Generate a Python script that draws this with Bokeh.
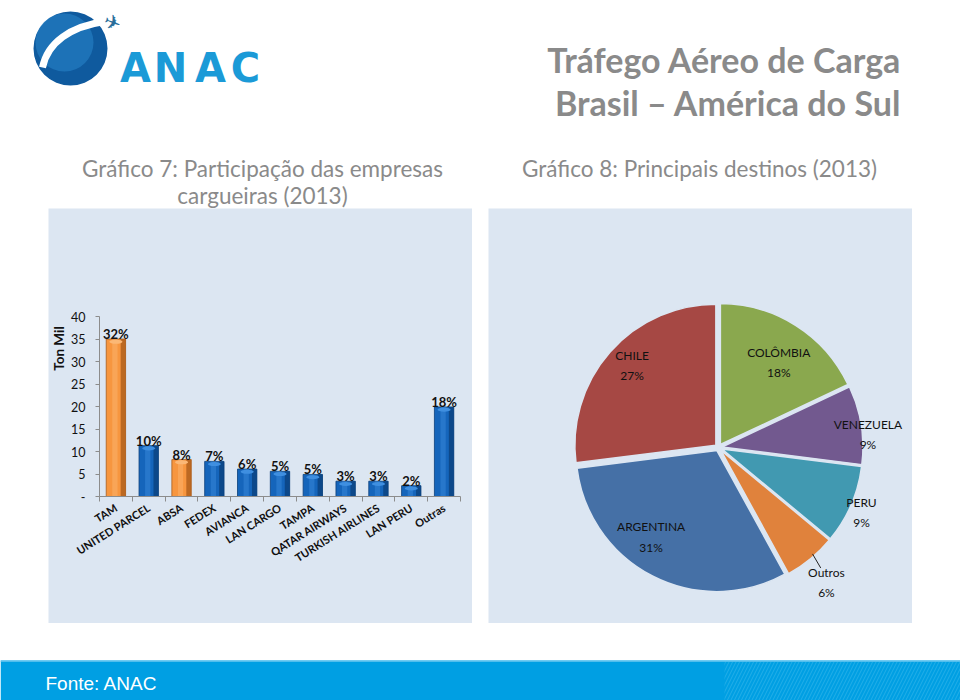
import math
from bokeh.plotting import figure
from bokeh.models import Range1d, FixedTicker, Spacer, ColumnDataSource
from bokeh.layouts import column, row
from bokeh.core.properties import value
from bokeh.embed import file_html
from bokeh.resources import INLINE

# ---------------- data ----------------
carriers = ["TAM", "UNITED PARCEL", "ABSA", "FEDEX", "AVIANCA", "LAN CARGO",
            "TAMPA", "QATAR AIRWAYS", "TURKISH AIRLINES", "LAN PERU", "Outras"]
ton_mil = [35.0, 11.3, 8.2, 7.8, 6.1, 5.6, 4.9, 3.4, 3.4, 2.4, 19.9]
share_labels = ["32%", "10%", "8%", "7%", "6%", "5%", "5%", "3%", "3%", "2%", "18%"]
highlighted = ["TAM", "ABSA"]
y_ticks = [0, 5, 10, 15, 20, 25, 30, 35, 40]

destinos = ["COLÔMBIA", "VENEZUELA", "PERU", "Outros", "ARGENTINA", "CHILE"]
destino_pct = [18, 9, 9, 6, 31, 27]
destino_colors = ["#8aa84e", "#72598f", "#4199b1", "#e0823c", "#4570a6", "#a64844"]

# ---------------- styles ----------------
BG = "#dce6f2"
GRAY = "#8a8a8a"
FONT = "Lato"

# ---------------- header ----------------
ph = figure(width=960, height=208, x_range=Range1d(0, 960), y_range=Range1d(208, 0),
            x_axis_location=None, y_axis_location=None, min_border=0,
            outline_line_color=None, toolbar_location=None, output_backend="svg")
ph.grid.visible = False
# logo
ph.circle(x=[70], y=[48], radius=37, fill_color="#0f5a9e", line_color=None)
ph.circle(x=[64], y=[42], radius=29, fill_color="#2a86cc", line_color=None, fill_alpha=0.55)
ph.bezier(x0=[42], y0=[67], x1=[104], y1=[21], cx0=[47], cy0=[42], cx1=[70], cy1=[26],
          line_color="white", line_width=7)
ph.text(x=[112], y=[22], text=["✈"], text_font=value("DejaVu Sans"), text_font_size="20px",
        text_color="#2a6e9a", text_align="center", text_baseline="middle", angle=-0.35)
ph.text(x=[135, 170, 210, 245], y=[67] * 4, text=list("ANAC"), text_font=value("DejaVu Sans"),
        text_font_size="40px", text_font_style="bold", text_color="#1b9ad7",
        text_align="center", text_baseline="alphabetic")
# titles
ph.text(x=[901, 901], y=[59, 102], text=["Tráfego Aéreo de Carga", "Brasil – América do Sul"],
        text_font=value(FONT), text_font_size="34px", text_font_style="bold",
        text_color=GRAY, text_align="right", text_baseline="alphabetic")
ph.text(x=[262, 262], y=[168, 195], text=["Gráfico 7: Participação das empresas", "cargueiras (2013)"],
        text_font=value(FONT), text_font_size="22.5px", text_color=GRAY,
        text_align="center", text_baseline="alphabetic")
ph.text(x=[699], y=[168], text=["Gráfico 8: Principais destinos (2013)"],
        text_font=value(FONT), text_font_size="22.5px", text_color=GRAY,
        text_align="center", text_baseline="alphabetic")

# ---------------- bar chart ----------------
# panel 424x415 px; plot area 361x180 px, its left edge 51 px and its top 108 px into the panel
PANEL_W, PANEL_H = 424, 415
AREA_L, AREA_W, AREA_T, AREA_H = 51, 361, 108, 180
n = len(carriers)
px_x = AREA_W / n            # px per category
px_y = AREA_H / 40           # px per thousand tons
idx = list(range(n))
pb = figure(width=PANEL_W, height=PANEL_H,
            x_range=Range1d(-0.5 - AREA_L / px_x, n - 0.5 + (PANEL_W - AREA_L - AREA_W) / px_x),
            y_range=Range1d(-(PANEL_H - AREA_T - AREA_H) / px_y, 40 + AREA_T / px_y),
            output_backend="svg", toolbar_location=None, min_border=0,
            background_fill_color=BG, border_fill_color=BG, outline_line_color=None)
is_hl = [c in highlighted for c in carriers]
src = ColumnDataSource(dict(
    x=idx, top=ton_mil, lab=share_labels,
    xr=[i + 0.22 for i in idx], xl=[i - 0.03 for i in idx],
    dark=["#a85a1a" if h else "#0a3f7a" for h in is_hl],
    main=["#f7963f" if h else "#1565bb" for h in is_hl],
    light=["#fbb876" if h else "#3f8fe0" for h in is_hl],
    cap=[v - 0.6 for v in ton_mil],
))
pb.vbar(x="x", top="top", bottom=0, width=0.59, fill_color="main", line_color="dark",
        line_width=0.8, source=src)
pb.vbar(x="xr", top="top", bottom=0, width=0.15, fill_color="dark", fill_alpha=0.75,
        line_color=None, source=src)
pb.vbar(x="xl", top="top", bottom=0, width=0.16, fill_color="light", fill_alpha=0.45,
        line_color=None, source=src)
pb.ellipse(x="x", y="cap", width=0.4, height=0.9, fill_color="light", line_color=None, source=src)
pb.text(x="x", y="top", text="lab", source=src, text_align="center", text_baseline="bottom",
        y_offset=3, text_font=value(FONT), text_font_size="13px", text_font_style="bold",
        text_color="#111111")
pb.xgrid.visible = False
pb.ygrid.visible = False
# value axis
pb.yaxis.fixed_location = -0.5
pb.yaxis.bounds = (0, 40)
pb.yaxis.ticker = FixedTicker(ticks=y_ticks)
pb.yaxis.major_label_overrides = {0: "-"}
pb.yaxis.minor_tick_line_color = None
pb.yaxis.major_tick_in = 0
pb.yaxis.major_tick_out = 4
pb.yaxis.major_label_standoff = 10
pb.yaxis.major_label_text_font_size = "12.5px"
# category axis
pb.xaxis.fixed_location = 0
pb.xaxis.bounds = (-0.5, n - 0.5)
pb.xaxis.ticker = FixedTicker(ticks=idx, minor_ticks=[i - 0.5 for i in range(n + 1)])
pb.xaxis.major_label_overrides = {i: c for i, c in zip(idx, carriers)}
pb.xaxis.major_tick_line_color = None
pb.xaxis.minor_tick_line_color = "#8c8c8c"
pb.xaxis.minor_tick_in = 0
pb.xaxis.minor_tick_out = 5
pb.xaxis.major_label_orientation = 0.56
pb.xaxis.major_label_text_font_size = "11px"
pb.xaxis.major_label_text_font_style = "bold"
pb.xaxis.major_label_standoff = 4
pb.axis.axis_line_color = "#8c8c8c"
pb.yaxis.major_tick_line_color = "#8c8c8c"
pb.axis.major_label_text_font = FONT
pb.axis.major_label_text_color = "#111111"
# axis title
pb.text(x=[-0.5 - 41 / px_x], y=[40 - 32 / px_y], text=["Ton Mil"], angle=math.pi / 2,
        text_align="center", text_baseline="middle", text_font=value(FONT),
        text_font_size="13.5px", text_font_style="bold", text_color="#111111")

# ---------------- pie chart ----------------
pp = figure(width=424, height=415, x_range=Range1d(-230, 194), y_range=Range1d(-176, 239),
            x_axis_location=None, y_axis_location=None, min_border=0,
            output_backend="svg", toolbar_location=None,
            background_fill_color=BG, border_fill_color=BG, outline_line_color=None)
pp.grid.visible = False
R = 141
EXPLODE = 3.5
lab_r = [104, 150, 157, 173, 112, 119]
lab_da = [-3, -4, -1, -1, -10, -2]
total = float(sum(destino_pct))
cum = 0.0
wd = dict(cx=[], cy=[], s=[], e=[], c=[])
lx, ly, lt = [], [], []
for name, v, col, lr, da in zip(destinos, destino_pct, destino_colors, lab_r, lab_da):
    a0 = cum / total * 360.0
    a1 = (cum + v) / total * 360.0
    cum += v
    mid = math.radians(90.0 - (a0 + a1) / 2.0)
    wd["cx"].append(EXPLODE * math.cos(mid))
    wd["cy"].append(EXPLODE * math.sin(mid))
    wd["s"].append(math.radians(90.0 - a1))
    wd["e"].append(math.radians(90.0 - a0))
    wd["c"].append(col)
    la = mid + math.radians(da)
    lx.append(lr * math.cos(la))
    ly.append(lr * math.sin(la))
    lt.append(f"{name}\n{v}%")
pp.wedge(x="cx", y="cy", radius=R, start_angle="s", end_angle="e", fill_color="c",
         line_color=BG, line_width=1.5, source=ColumnDataSource(wd))
pp.text(x=lx, y=ly, text=lt, text_align="center", text_baseline="middle",
        text_font=value(FONT), text_font_size="12px", text_color="#111111",
        text_line_height=1.35)
# leader line for "Outros"
oi = destinos.index("Outros")
om = math.atan2(ly[oi], lx[oi])
pp.segment(x0=[(R + 1) * math.cos(om + 0.05)], y0=[(R + 1) * math.sin(om + 0.05)],
           x1=[(R + 17) * math.cos(om + 0.03)], y1=[(R + 17) * math.sin(om + 0.03)],
           line_color="#222222", line_width=1)

# ---------------- footer ----------------
pf = figure(width=960, height=77, x_range=Range1d(0, 960), y_range=Range1d(700, 623),
            x_axis_location=None, y_axis_location=None, min_border=0,
            outline_line_color=None, toolbar_location=None, output_backend="svg")
pf.grid.visible = False
pf.quad(left=[0], right=[960], top=[660], bottom=[700], fill_color="#009fe3", line_color=None)
pf.quad(left=[724], right=[960], top=[661], bottom=[700], fill_alpha=0, line_color=None,
        hatch_pattern="/", hatch_color="#4cc0ee", hatch_alpha=0.45, hatch_scale=7, hatch_weight=1)
pf.segment(x0=[0], y0=[660.5], x1=[960], y1=[660.5], line_color="#6cc9f0", line_width=1.5)
pf.text(x=[45], y=[683], text=["Fonte: ANAC"], text_font=value("Liberation Sans"),
        text_font_size="19px", text_color="white", text_baseline="middle")

layout = column(
    ph,
    row(Spacer(width=48, height=415), pb, Spacer(width=16, height=415), pp, Spacer(width=48, height=415)),
    pf,
)

open("out.html", "w").write(file_html(layout, INLINE))
